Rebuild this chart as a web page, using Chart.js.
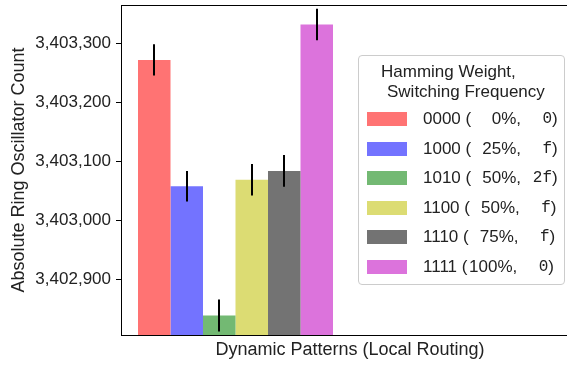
<!DOCTYPE html>
<html>
<head>
<meta charset="utf-8">
<script src="https://cdn.jsdelivr.net/npm/chart.js@4.4.0/dist/chart.umd.min.js"></script>
<style>
  html, body { margin: 0; padding: 0; background: #fff; overflow: hidden; }
  #wrap { position: relative; width: 580px; height: 366px; }
  #legend {
    position: absolute; left: 358px; top: 55px; width: 207px; height: 230px;
    box-sizing: border-box; border: 1px solid #cccccc; border-radius: 4px;
    background: rgba(255,255,255,0.8);
    font-family: "Liberation Sans", sans-serif; font-size: 17px; color: #222;
  }
  #legend .t { position: absolute; line-height: 20px; white-space: nowrap; }
  #legend .row { position: absolute; left: 0; height: 20px; width: 100%; }
  #legend .sw { position: absolute; left: 8px; top: 3px; width: 40px; height: 14px; }
  #legend .lab { position: absolute; left: 64px; top: 0; line-height: 20px; white-space: nowrap; display: flex; }
  #legend .pct { display: inline-block; width: 30px; text-align: right; }
  #legend .frq { display: inline-block; width: 31px; text-align: right; font-family: "Liberation Mono", monospace; font-size: 16px; }
</style>
</head>
<body>
<div id="wrap">
  <canvas id="myChart" width="580" height="366"></canvas>
  <div id="legend"></div>
</div>
<script>
// bars in one group, legend entries
const patterns = ['0000', '1000', '1010', '1100', '1110', '1111'];
const weights = [0, 25, 50, 50, 75, 100];
const freqs = ['0', 'f', '2f', 'f', 'f', '0'];
const means = [3403272, 3403058, 3402839, 3403069, 3403084, 3403332];
const errs = [26.5, 26, 27, 26.5, 27, 26.5];
const colors = ['#ff7373', '#7373ff', '#73b973', '#dcdc73', '#737373', '#dc73dc'];
const categories = ['Dynamic', ''];
const yTicks = [3402900, 3403000, 3403100, 3403200, 3403300];

Chart.defaults.font.family = '"Liberation Sans", sans-serif';
Chart.defaults.color = '#222';

const errorBars = {
  id: 'errorBars',
  afterDatasetsDraw(chart) {
    const ctx = chart.ctx;
    const y = chart.scales.y;
    ctx.save();
    ctx.strokeStyle = '#000';
    ctx.lineWidth = 2;
    chart.data.datasets.forEach((ds, i) => {
      const bar = chart.getDatasetMeta(i).data[0];
      const x = Math.round(bar.x);
      ctx.beginPath();
      ctx.moveTo(x, y.getPixelForValue(ds.data[0] - errs[i]));
      ctx.lineTo(x, y.getPixelForValue(ds.data[0] + errs[i]));
      ctx.stroke();
    });
    // top spine
    const a = chart.chartArea;
    ctx.lineWidth = 1;
    ctx.beginPath();
    ctx.moveTo(a.left, a.top + 0.5);
    ctx.lineTo(a.right, a.top + 0.5);
    ctx.stroke();
    ctx.restore();
  }
};

const ctx = document.getElementById('myChart').getContext('2d');
const myChart = new Chart(ctx, {
  type: 'bar',
  data: {
    labels: categories,
    datasets: patterns.map((p, i) => ({
      label: p + ' (' + weights[i] + '%, ' + freqs[i] + ')',
      data: [means[i]],
      backgroundColor: colors[i],
      borderWidth: 0,
      barPercentage: 1,
      categoryPercentage: 0.8515
    }))
  },
  options: {
    responsive: false,
    animation: false,
    layout: { padding: { top: 5, right: 1, bottom: 0, left: 0 } },
    plugins: { legend: { display: false }, tooltip: { enabled: false } },
    scales: {
      x: {
        grid: { display: false },
        ticks: { display: false },
        border: { display: true, color: '#000', width: 1 },
        title: { display: true, text: 'Dynamic Patterns (Local Routing)', font: { size: 18 }, padding: { top: 0, bottom: 5 } },
        afterFit(scale) { scale.height = 31; }
      },
      y: {
        min: 3402806,
        max: 3403365,
        grid: { drawOnChartArea: false, drawTicks: true, tickLength: 5, color: '#000' },
        border: { display: true, color: '#000', width: 1 },
        ticks: { stepSize: 100, padding: 5, font: { size: 17 } },
        title: { display: true, text: 'Absolute Ring Oscillator Count', font: { size: 18 }, padding: { top: 8, bottom: 0 } },
        afterBuildTicks(scale) { scale.ticks = yTicks.map(v => ({ value: v })); },
        afterFit(scale) {
          scale.width = 121;
          scale.paddingTop = 0;
          scale.paddingBottom = 0;
        }
      }
    }
  },
  plugins: [errorBars]
});

// legend drawn as html on top of the plot
const legend = document.getElementById('legend');
let html = '<div class="t" style="left:22px;top:6px">Hamming Weight,</div>' +
           '<div class="t" style="left:28px;top:26px">Switching Frequency</div>';
patterns.forEach((p, i) => {
  const top = 53 + i * 29.6;
  html += '<div class="row" style="top:' + top + 'px">' +
    '<div class="sw" style="background:' + colors[i] + '"></div>' +
    '<div class="lab"><span>' + p + '&nbsp;(</span><span class="pct">' + weights[i] + '</span><span>%,</span>' +
    '<span class="frq">' + freqs[i] + '</span><span>)</span></div></div>';
});
legend.innerHTML = html;
</script>
</body>
</html>
